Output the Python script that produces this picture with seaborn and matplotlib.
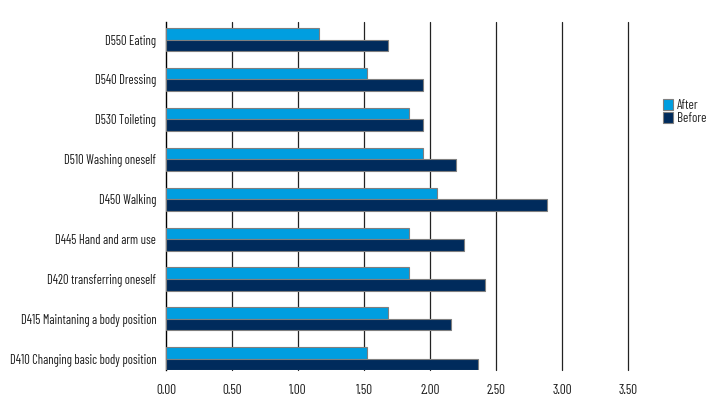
import matplotlib
matplotlib.use("Agg")
import matplotlib.pyplot as plt
import seaborn as sns
import pandas as pd

# ── Data ─────────────────────────────────────────────────────
categories = [
    "D550 Eating",
    "D540 Dressing",
    "D530 Toileting",
    "D510 Washing oneself",
    "D450 Walking",
    "D445 Hand and arm use",
    "D420 transferring oneself",
    "D415 Maintaning a body position",
    "D410 Changing basic body position",
]
after = [1.16, 1.52, 1.84, 1.95, 2.05, 1.84, 1.84, 1.68, 1.52]
before = [1.68, 1.95, 1.95, 2.20, 2.89, 2.26, 2.42, 2.16, 2.36]
series = ["After", "Before"]
x_ticks = [0.0, 0.5, 1.0, 1.5, 2.0, 2.5, 3.0, 3.5]

df = pd.DataFrame({
    "category": categories * 2,
    "value": after + before,
    "series": ["After"] * len(after) + ["Before"] * len(before),
})

# ── Style ────────────────────────────────────────────────────
sns.set_style("white")
plt.rcParams["font.family"] = ["Barlow Condensed", "Archivo Narrow", "DejaVu Sans"]

palette = {"After": "#009ee0", "Before": "#002b5c"}

fig = plt.figure(figsize=(7.2, 4.2), dpi=100)
ax = fig.add_axes([166 / 720, 1 - 370 / 420, (628 - 166) / 720, (370 - 22) / 420])

sns.barplot(
    data=df, x="value", y="category", hue="series",
    order=categories, hue_order=series, palette=palette, saturation=1,
    width=0.58, edgecolor="#7f7f7f", linewidth=0.8,
    ax=ax, zorder=3,
)

ax.set_xlim(0, 3.5)
ax.set_ylim(8.28, -0.44)
ax.set_xticks(x_ticks)
ax.set_xticklabels([f"{t:.2f}" for t in x_ticks], fontsize=9.5, color="#1a1a1a")
ax.tick_params(axis="y", labelsize=9, length=0, pad=7, labelcolor="#1a1a1a")
ax.tick_params(axis="x", length=0, pad=10)
ax.set_xlabel("")
ax.set_ylabel("")

for t in x_ticks[1:]:
    ax.axvline(t, color="#222222", linewidth=0.9, zorder=1, clip_on=False)

for side in ["top", "right", "bottom"]:
    ax.spines[side].set_visible(False)
ax.spines["left"].set_color("#000000")
ax.spines["left"].set_linewidth(1.0)

leg = ax.legend(
    loc="upper left", bbox_to_anchor=(1.075, 0.78), frameon=False,
    fontsize=9.5, handlelength=0.8, handleheight=0.9, handletextpad=0.3,
    labelspacing=0.05, borderaxespad=0, borderpad=0,
)

fig.savefig("out.png", dpi=100)
